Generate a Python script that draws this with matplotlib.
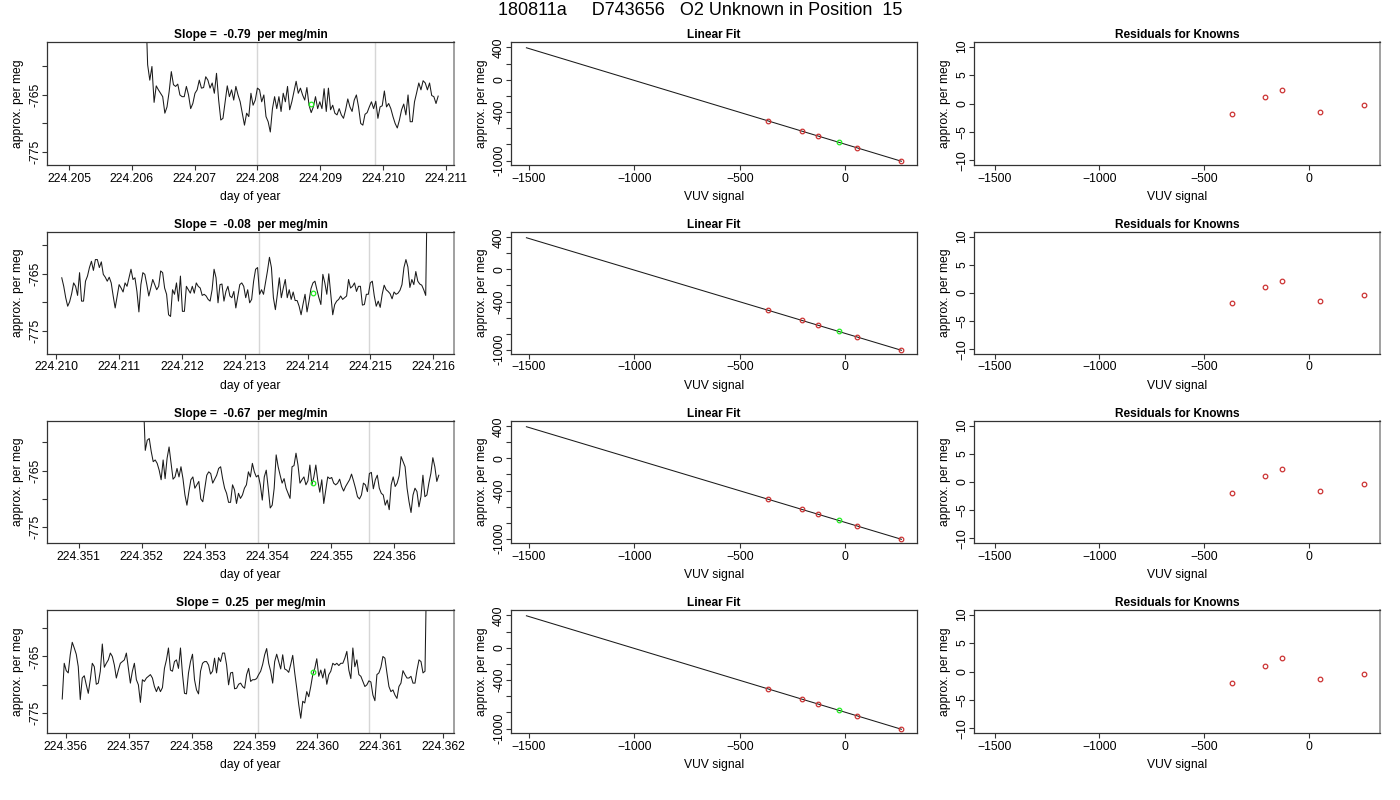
import numpy as np
import matplotlib
matplotlib.use("Agg")
import matplotlib.pyplot as plt
from matplotlib.ticker import MultipleLocator, FormatStrFormatter

plt.rcParams['font.family'] = ['Liberation Sans', 'DejaVu Sans']

main_title = "180811a     D743656   O2 Unknown in Position  15"
slopes = ["-0.79", "-0.08", "-0.67", "0.25"]

ts1 = [-748, -759.7, -762.4, -760.0, -766.3, -763.4, -764.1, -764.7, -765.3, -768.2, -767.1, -764.4, -760.9,
       -763.2, -763.5, -763.1, -765.0, -765.3, -765.3, -763.5, -765.0, -767.4, -766.5, -764.7, -764.1, -762.4,
       -763.8, -763.7, -761.8, -762.4, -763.8, -762.9, -764.7, -761.2, -765.9, -769.4, -769.1, -766.2, -763.4,
       -765.3, -764.1, -765.9, -763.5, -765.0, -766.2, -768.2, -770.3, -768.2, -768.8, -764.7, -766.8, -765.9,
       -763.8, -764.1, -766.2, -765.0, -768.8, -769.7, -771.5, -767.4, -765.3, -767.4, -765.3, -767.9, -764.7,
       -766.2, -763.5, -767.6, -766.2, -764.4, -762.6, -764.7, -763.8, -765.0, -765.9, -763.7, -766.8, -768.1,
       -767.1, -765.3, -767.4, -766.2, -767.4, -763.9, -767.9, -763.8, -767.6, -766.8, -768.2, -768.5, -767.4,
       -768.5, -769.1, -767.6, -765.7, -767.1, -767.9, -765.9, -765.0, -767.1, -770.0, -770.3, -768.4, -768.1,
       -767.1, -766.2, -767.4, -766.1, -769.1, -767.1, -766.9, -764.3, -767.1, -766.5, -767.4, -768.8, -770.0,
       -770.8, -769.4, -767.6, -766.6, -768.5, -765.0, -769.7, -769.7, -766.2, -764.6, -762.9, -764.1, -762.5,
       -762.9, -764.1, -762.9, -765.1, -765.3, -766.5, -765.2]
ts2 = [-765.7, -767.2, -769.2, -770.7, -769.9, -768.5, -766.6, -767.2, -768.8, -764.8, -769.8, -769.8, -766.3,
       -765.4, -763.9, -762.8, -764.4, -762.5, -762.5, -763.9, -762.9, -765.1, -765.6, -766.3, -765.6, -766.6,
       -768.9, -771.0, -768.9, -766.9, -767.5, -768.2, -766.6, -767.2, -765.7, -764.2, -766.0, -765.7, -768.1,
       -771.7, -766.9, -764.8, -765.1, -766.9, -768.9, -767.5, -766.0, -766.9, -767.8, -767.2, -764.5, -764.8,
       -767.5, -768.6, -772.2, -772.5, -767.8, -768.6, -766.6, -769.8, -765.4, -771.6, -771.6, -767.2, -767.8,
       -768.4, -767.2, -768.4, -766.6, -767.2, -767.5, -768.8, -768.6, -768.9, -769.5, -769.8, -767.8, -764.2,
       -765.7, -770.1, -766.9, -766.8, -769.8, -768.1, -767.2, -768.9, -769.2, -768.1, -771.0, -768.9, -766.9,
       -766.6, -767.2, -769.2, -767.8, -770.1, -769.5, -766.3, -764.2, -763.9, -768.6, -767.8, -768.6, -766.6,
       -764.5, -762.1, -763.9, -769.2, -771.3, -768.6, -765.7, -769.2, -767.5, -766.0, -769.2, -767.8, -769.5,
       -768.2, -769.7, -769.7, -770.7, -772.2, -770.3, -768.6, -771.7, -769.8, -767.6, -766.6, -766.3, -767.8,
       -769.2, -770.4, -765.1, -766.6, -768.6, -765.0, -768.6, -772.2, -770.4, -769.8, -769.5, -768.9, -769.5,
       -769.2, -768.9, -766.0, -767.5, -767.2, -766.6, -768.1, -767.2, -767.2, -770.5, -770.4, -768.6, -768.6,
       -766.6, -766.3, -768.9, -770.7, -769.8, -770.9, -768.6, -767.0, -767.8, -768.1, -768.5, -769.4, -768.2,
       -768.6, -768.4, -767.9, -766.9, -763.9, -762.5, -763.8, -767.4, -766.0, -766.9, -764.6, -766.3, -766.8,
       -767.0, -767.8, -768.8, -745]
ts3 = [-752, -761.4, -759.6, -759.3, -761.6, -763.4, -763.1, -763.7, -764.9, -766.6, -763.1, -766.4, -762.8,
       -760.8, -763.7, -766.5, -766.1, -764.6, -766.1, -764.3, -766.4, -769.3, -771.1, -768.7, -766.6, -766.1,
       -768.1, -767.5, -766.9, -770.0, -770.5, -768.1, -765.8, -765.2, -765.5, -767.2, -766.5, -765.8, -764.6,
       -764.3, -766.4, -768.1, -769.0, -770.6, -770.6, -767.5, -768.4, -770.8, -769.0, -769.9, -769.3, -768.1,
       -767.5, -765.2, -766.1, -763.7, -765.2, -766.1, -765.8, -767.5, -770.2, -766.1, -764.9, -768.1, -771.6,
       -771.1, -768.1, -762.2, -764.3, -765.8, -767.2, -766.4, -768.1, -769.0, -769.9, -764.3, -764.1, -761.9,
       -764.0, -767.2, -766.6, -766.1, -767.5, -766.8, -764.0, -767.5, -766.1, -764.0, -766.8, -768.8, -766.6,
       -770.8, -768.4, -766.1, -766.4, -766.2, -767.2, -767.5, -767.2, -766.5, -767.8, -768.6, -767.8, -767.2,
       -766.6, -765.6, -766.8, -768.1, -769.6, -770.0, -769.3, -767.2, -767.5, -768.7, -765.5, -765.3, -768.2,
       -766.6, -765.8, -768.1, -769.0, -769.3, -771.1, -770.2, -771.9, -767.5, -766.1, -767.8, -767.2, -765.9,
       -762.5, -763.4, -764.3, -768.1, -770.5, -772.4, -769.3, -768.1, -768.7, -771.4, -769.6, -765.8, -769.6,
       -769.3, -767.2, -765.5, -762.7, -764.3, -766.9, -765.8]
ts4 = [-772.5, -766.2, -767.5, -767.9, -764.7, -762.5, -763.5, -764.6, -766.8, -772.6, -768.8, -768.4, -770.0,
       -771.5, -769.1, -766.2, -766.8, -769.9, -769.7, -767.6, -762.8, -766.9, -766.2, -765.6, -764.4, -765.0,
       -766.5, -768.8, -767.4, -766.2, -765.9, -765.6, -764.4, -767.1, -769.7, -767.6, -766.2, -769.1, -770.0,
       -773.1, -769.1, -769.4, -768.8, -768.5, -768.2, -768.8, -770.3, -771.2, -770.3, -771.2, -770.5, -767.1,
       -765.6, -763.5, -767.4, -767.6, -765.9, -765.6, -767.1, -763.5, -768.1, -771.5, -771.6, -767.9, -765.9,
       -764.6, -769.1, -770.9, -771.6, -767.6, -766.2, -765.9, -765.9, -766.5, -768.1, -767.6, -765.3, -767.9,
       -765.2, -765.9, -764.4, -764.4, -766.5, -770.0, -767.9, -767.8, -770.7, -770.6, -769.9, -769.7, -770.3,
       -770.6, -768.2, -767.1, -769.4, -769.1, -769.1, -768.9, -768.2, -767.6, -766.4, -764.7, -763.6, -766.2,
       -767.6, -769.7, -765.9, -764.6, -765.9, -767.2, -764.7, -767.2, -767.4, -767.8, -766.4, -764.8, -767.9,
       -770.6, -773.5, -775.9, -772.9, -773.2, -771.2, -772.1, -770.3, -768.2, -767.1, -765.4, -768.5, -767.4,
       -768.8, -767.2, -769.9, -768.2, -767.6, -766.2, -766.5, -766.2, -766.6, -766.2, -766.2, -765.3, -764.1,
       -767.4, -768.9, -763.5, -766.8, -765.6, -768.2, -768.5, -769.4, -770.3, -770.0, -769.3, -769.5, -771.8,
       -772.8, -768.2, -767.9, -766.9, -765.0, -765.3, -767.9, -770.3, -771.2, -770.9, -771.8, -772.4, -770.3,
       -769.7, -767.5, -768.2, -768.8, -768.8, -768.5, -769.7, -769.7, -767.4, -765.6, -765.9, -767.9, -767.6,
       -745]
ts_values = [ts1, ts2, ts3, ts4]
ts_start = [224.206218, 224.210085, 224.352026, 224.355942]
ts_end = [224.210878, 224.215911, 224.356709, 224.361741]
ts_xlim = [(224.20465, 224.21113), (224.20985, 224.21633), (224.3505, 224.35695), (224.3557, 224.36217)]
ts_ylim = [(-777.3, -755.7), (-779.1, -757.65), (-777.8, -756.2), (-778.5, -756.8)]
ts_marks = [(224.208, 224.20988), (224.21322, 224.21497), (224.35385, 224.3556), (224.35906, 224.36082)]
unk_time = [224.20885, 224.21409, 224.35472, 224.35993]
unk_value = [-766.6, -768.35, -767.1, -767.7]

# linear fit of knowns
vuv_known = [-366, -208, -128, 54, 265]
permeg_known = [-508, -636, -698, -839, -1008]
vuv_unknown = -32
permeg_unknown = -773
vuv_line = [-1511, 265]
residuals = [
    [-1.76, 1.12, 2.29, -1.53, -0.18],
    [-1.82, 1.00, 2.18, -1.35, -0.29],
    [-1.94, 1.00, 2.35, -1.59, -0.29],
    [-2.00, 1.00, 2.29, -1.29, -0.41],
]

fit = np.polyfit(vuv_known, permeg_known, 1)

fig = plt.figure(figsize=(14, 8), dpi=100)
W, H = 1400, 800


def box(l, t, r, b):
    return [l / W, 1 - b / H, (r - l) / W, (b - t) / H]


cols = [(47, 454), (511, 917), (974, 1380)]
rows = [(42, 165), (232, 354), (421, 543), (610, 733)]
FS = 8.7
red = '#cc3333'
green = '#22ee22'


def style(ax, title, xlabel, gray_right=True):
    for s in ax.spines.values():
        s.set_color('#333333')
        s.set_linewidth(0.9)
    if gray_right:
        ax.spines['right'].set_color('#999999')
        ax.spines['right'].set_linewidth(1.3)
    ax.tick_params(direction='out', length=3.4, width=0.8, color='#333333', labelsize=FS, pad=2)
    ax.tick_params(axis='y', labelrotation=90, pad=0.8)
    for lab in ax.get_yticklabels():
        lab.set_va('center')
    ax.set_title(title, fontsize=8.6, fontweight='bold', pad=3)
    ax.set_xlabel(xlabel, fontsize=FS, labelpad=5)
    ax.set_ylabel("approx. per meg", fontsize=FS, labelpad=4)


fig.text(0.5, 1 - 10.5 / H, main_title, ha='center', va='center', fontsize=13)

for i in range(4):
    t, b = rows[i]
    # time series
    ax = fig.add_axes(box(cols[0][0], t, cols[0][1], b))
    times = np.linspace(ts_start[i], ts_end[i], len(ts_values[i]))
    for m in ts_marks[i]:
        ax.axvline(m, color='#d6d6d6', lw=1.0, zorder=1)
    ax.plot(times, ts_values[i], color='#1a1a1a', lw=0.75, zorder=2)
    ax.plot([unk_time[i]], [unk_value[i]], 'o', mfc='none', mec=green, ms=3.3, mew=0.9, zorder=3)
    ax.set_xlim(*ts_xlim[i])
    ax.set_ylim(*ts_ylim[i])
    ax.xaxis.set_major_locator(MultipleLocator(0.001))
    ax.xaxis.set_major_formatter(FormatStrFormatter('%.3f'))
    ax.set_yticks([-760, -765, -770, -775])
    ax.set_yticklabels(['', '-765', '', '-775'])
    style(ax, "Slope =  %s  per meg/min" % slopes[i], "day of year")

    # linear fit
    ax = fig.add_axes(box(cols[1][0], t, cols[1][1], b))
    ax.plot(vuv_line, np.polyval(fit, vuv_line), color='#1a1a1a', lw=0.75)
    ax.plot(vuv_known, permeg_known, 'o', mfc='none', mec=red, ms=3.3, mew=0.9)
    ax.plot([vuv_unknown], [permeg_unknown], 'o', mfc='none', mec=green, ms=3.3, mew=0.9)
    ax.set_xlim(-1584, 339)
    ax.set_ylim(-1054, 466)
    ax.set_xticks([-1500, -1000, -500, 0])
    ax.set_yticks([400, 200, 0, -200, -400, -600, -800, -1000])
    ax.set_yticklabels(['400', '', '0', '', '-400', '', '', '-1000'])
    style(ax, "Linear Fit", "VUV signal", gray_right=False)

    # residuals
    ax = fig.add_axes(box(cols[2][0], t, cols[2][1], b))
    ax.plot(vuv_known, residuals[i], 'o', mfc='none', mec=red, ms=3.3, mew=0.9)
    ax.set_xlim(-1599, 341)
    ax.set_ylim(-10.8, 10.8)
    ax.set_xticks([-1500, -1000, -500, 0])
    ax.set_yticks([10, 5, 0, -5, -10])
    style(ax, "Residuals for Knowns", "VUV signal")

fig.savefig("out.png", dpi=100)
